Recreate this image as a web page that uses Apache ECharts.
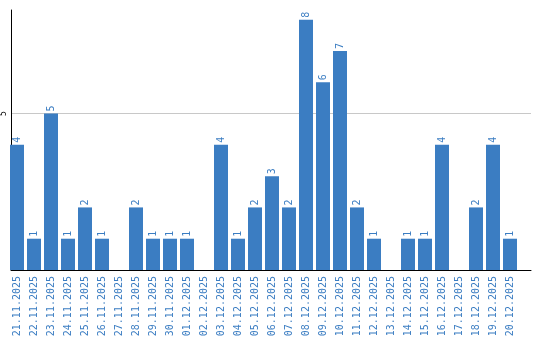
<!DOCTYPE html>
<html>
<head>
<meta charset="utf-8">
<script src="https://cdn.jsdelivr.net/npm/echarts@6/dist/echarts.min.js"></script>
<style>html,body{margin:0;padding:0;background:#fff}#c{width:540px;height:340px}</style>
</head>
<body>
<div id="c"></div>
<script>
var categories = ["21.11.2025","22.11.2025","23.11.2025","24.11.2025","25.11.2025","26.11.2025","27.11.2025","28.11.2025","29.11.2025","30.11.2025","01.12.2025","02.12.2025","03.12.2025","04.12.2025","05.12.2025","06.12.2025","07.12.2025","08.12.2025","09.12.2025","10.12.2025","11.12.2025","12.12.2025","13.12.2025","14.12.2025","15.12.2025","16.12.2025","17.12.2025","18.12.2025","19.12.2025","20.12.2025"];
var values = [4,1,5,1,2,1,0,2,1,1,1,0,4,1,2,3,2,8,6,7,2,1,0,1,1,4,0,2,4,1];
var yTicks = [5];

var blue = '#3b7dc2';
var mono = 'DejaVu Sans Mono';
var chart = echarts.init(document.getElementById('c'));
chart.setOption({
  animation: false,
  grid: [
    {left: 8.5, top: 10, width: 510, height: 260},
    {left: 10, top: 10, right: 9, height: 260}
  ],
  xAxis: [
    {type: 'category', gridIndex: 0, data: categories,
     axisLine: {show: false}, axisTick: {show: false},
     axisLabel: {interval: 0, rotate: 90, color: blue, fontFamily: mono, fontSize: 10, margin: 6}},
    {type: 'value', gridIndex: 1, min: 0, max: 1,
     axisLine: {show: true, lineStyle: {color: '#000', width: 1}},
     axisTick: {show: false}, axisLabel: {show: false}, splitLine: {show: false}}
  ],
  yAxis: [
    {type: 'value', gridIndex: 0, min: 0, max: 8.31, show: false, splitLine: {show: false}},
    {type: 'value', gridIndex: 1, min: 0, max: 8.31, interval: 5,
     axisLine: {show: true, lineStyle: {color: '#000', width: 1}},
     axisTick: {show: false},
     axisLabel: {rotate: 90, fontSize: 8, fontFamily: mono, color: '#000', margin: 3,
       showMinLabel: false, showMaxLabel: false,
       formatter: function (v) { return yTicks.indexOf(v) >= 0 ? String(v) : ''; }},
     splitLine: {show: true, showMinLine: false, showMaxLine: false, lineStyle: {color: '#c8c8c8', width: 1}}}
  ],
  series: [{
    type: 'bar', xAxisIndex: 0, yAxisIndex: 0, data: values, barWidth: 14,
    itemStyle: {color: blue},
    label: {show: true, position: 'top', rotate: 90, align: 'left', verticalAlign: 'middle',
      distance: 2, color: blue, fontFamily: mono, fontSize: 10,
      formatter: function (p) { return p.value ? String(p.value) : ''; }}
  }]
});
</script>
</body>
</html>
